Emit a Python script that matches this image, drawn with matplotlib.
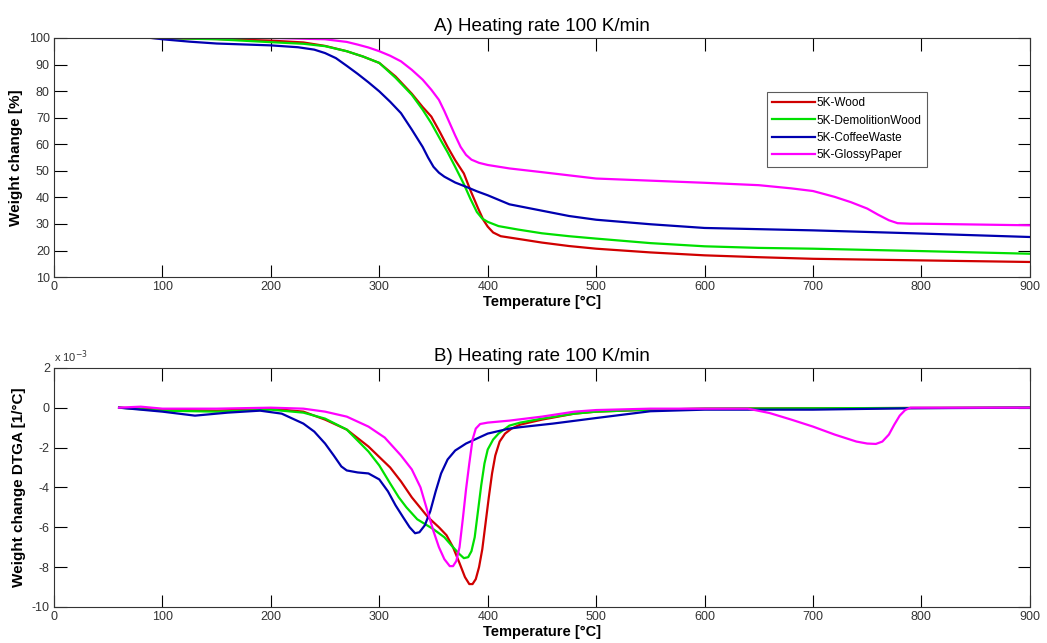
import matplotlib
matplotlib.use("Agg")
import matplotlib.pyplot as plt

plt.rcParams["font.family"] = ["Liberation Sans", "DejaVu Sans"]
plt.rcParams["axes.unicode_minus"] = False

# --- A) weight change [%] vs temperature [degC] ---
wood_t = [90, 150, 200, 230, 250, 270, 285, 300, 315, 330, 340, 348, 356, 363, 370, 378, 384, 391, 396, 400,
          405, 412, 428, 450, 475, 500, 550, 600, 650, 700, 800, 900]
wood_w = [100, 99.6, 99, 98.3, 97, 95, 93, 90.6, 85.5, 79, 74, 70.4, 64.5, 59, 54, 49, 42.7, 36, 31.5, 29,
          26.8, 25.4, 24.4, 23, 21.7, 20.7, 19.3, 18.2, 17.5, 16.9, 16.3, 15.7]

demo_t = [90, 150, 200, 230, 250, 270, 285, 300, 315, 330, 340, 348, 356, 363, 370, 378, 384, 390, 395, 400,
          410, 428, 450, 475, 500, 550, 600, 650, 700, 800, 900]
demo_w = [100, 99.5, 98.4, 97.8, 96.9, 95, 93, 90.6, 85, 78.6, 73, 67.9, 62, 57, 51.5, 45, 39.5, 34.5, 32, 30.8,
          29.2, 27.9, 26.5, 25.4, 24.5, 22.8, 21.6, 21, 20.7, 19.8, 18.8]

coffee_t = [90, 100, 125, 150, 200, 225, 240, 250, 260, 270, 280, 290, 300, 310, 320, 330, 340, 345, 350, 355,
            360, 370, 380, 390, 400, 420, 450, 475, 500, 550, 600, 700, 800, 900]
coffee_w = [100, 99.5, 98.6, 97.9, 97.2, 96.5, 95.6, 94.3, 92.4, 89.5, 86.5, 83.3, 79.9, 76, 71.7, 65.5, 59, 55,
            51.5, 49.3, 47.8, 45.6, 44, 42.3, 40.8, 37.4, 35, 33, 31.6, 29.9, 28.5, 27.6, 26.4, 25.1]

glossy_t = [90, 200, 250, 270, 280, 290, 300, 310, 320, 330, 340, 348, 355, 360, 365, 370, 375, 380, 385, 392,
            400, 420, 450, 500, 550, 600, 650, 680, 700, 720, 735, 750, 760, 770, 778, 790, 800, 900]
glossy_w = [100, 100, 99.5, 98.5, 97.5, 96.4, 95, 93.3, 91.2, 88, 84.3, 80.5, 76.7, 72.5, 67.9, 63.3, 59, 56,
            54.2, 53, 52.2, 50.9, 49.5, 47.1, 46.3, 45.5, 44.6, 43.4, 42.4, 40.2, 38.2, 35.8, 33.5, 31.4, 30.3,
            30.1, 30.1, 29.5]

# --- B) DTGA [x 1e-3 1/degC] vs temperature [degC] ---
wood_dt = [60, 100, 150, 200, 230, 250, 270, 290, 310, 320, 330, 345, 355, 362, 368, 374, 379, 383, 386, 389,
           392, 395, 398, 401, 404, 407, 411, 416, 422, 430, 450, 480, 500, 550, 600, 700, 900]
wood_dg = [0, -0.1, -0.15, -0.05, -0.2, -0.6, -1.1, -1.95, -3.0, -3.7, -4.5, -5.5, -6.0, -6.4, -7.0, -7.8, -8.5,
           -8.85, -8.85, -8.6, -8.0, -7.1, -5.8, -4.5, -3.3, -2.4, -1.7, -1.3, -1.05, -0.85, -0.6, -0.3, -0.2,
           -0.1, -0.05, -0.03, 0]

demo_dt = [60, 100, 150, 200, 230, 250, 270, 290, 300, 310, 318, 325, 335, 350, 360, 368, 374, 378, 382, 385,
           388, 391, 394, 397, 400, 405, 410, 420, 430, 450, 480, 500, 550, 600, 700, 900]
demo_dg = [0, -0.15, -0.2, -0.1, -0.25, -0.55, -1.1, -2.2, -2.9, -3.8, -4.5, -5.0, -5.6, -6.1, -6.5, -7.0,
           -7.35, -7.55, -7.5, -7.2, -6.5, -5.2, -3.9, -2.8, -2.1, -1.6, -1.3, -0.9, -0.75, -0.55, -0.3, -0.2,
           -0.1, -0.05, -0.03, 0]

coffee_dt = [60, 100, 130, 160, 190, 210, 230, 240, 250, 258, 265, 270, 280, 290, 300, 308, 315, 322, 328, 333,
             337, 342, 347, 352, 357, 363, 370, 380, 390, 400, 420, 430, 460, 500, 550, 600, 700, 790, 900]
coffee_dg = [0, -0.2, -0.4, -0.25, -0.15, -0.3, -0.8, -1.2, -1.8, -2.4, -2.95, -3.15, -3.25, -3.3, -3.6, -4.2,
             -4.9, -5.5, -6.0, -6.3, -6.25, -5.9, -5.2, -4.2, -3.3, -2.6, -2.15, -1.8, -1.55, -1.3, -1.05,
             -0.98, -0.8, -0.52, -0.18, -0.1, -0.1, -0.03, 0]

glossy_dt = [60, 80, 100, 150, 200, 230, 250, 270, 290, 305, 320, 330, 338, 345, 350, 355, 360, 365, 368, 371,
             374, 377, 380, 383, 386, 389, 393, 400, 420, 450, 480, 500, 550, 640, 660, 680, 700, 720, 740, 750,
             758, 764, 770, 775, 780, 785, 790, 900]
glossy_dg = [0, 0.05, -0.05, -0.05, 0, -0.05, -0.2, -0.45, -0.95, -1.5, -2.4, -3.1, -4.0, -5.3, -6.2, -7.0,
             -7.6, -7.95, -7.95, -7.7, -7.0, -5.6, -4.1, -2.8, -1.6, -1.05, -0.82, -0.75, -0.65, -0.45, -0.2,
             -0.12, -0.05, -0.05, -0.27, -0.6, -0.95, -1.35, -1.7, -1.8, -1.82, -1.7, -1.35, -0.85, -0.4, -0.12,
             0, 0]

labels = ["5K-Wood", "5K-DemolitionWood", "5K-CoffeeWaste", "5K-GlossyPaper"]
colors = ["#d00000", "#00e000", "#0000b0", "#ff00ff"]

fig = plt.figure(figsize=(10.47, 6.43), dpi=100)
ax1 = fig.add_axes([0.0516, 0.569, 0.932, 0.372])
ax2 = fig.add_axes([0.0516, 0.056, 0.932, 0.372])

for t, w, c, lab in zip([wood_t, demo_t, coffee_t, glossy_t],
                        [wood_w, demo_w, coffee_w, glossy_w], colors, labels):
    ax1.plot(t, w, color=c, lw=1.6, label=lab)

for t, g, c in zip([wood_dt, demo_dt, coffee_dt, glossy_dt],
                   [wood_dg, demo_dg, coffee_dg, glossy_dg], colors):
    ax2.plot(t, g, color=c, lw=1.6)

for ax in (ax1, ax2):
    ax.set_xlim(0, 900)
    ax.set_xticks(range(0, 901, 100))
    ax.tick_params(direction="in", top=True, right=True, length=9, width=0.8,
                   labelsize=9, labelcolor="#333333", pad=3)
    ax.set_xlabel("Temperature [°C]", fontsize=10.5, fontweight="bold", labelpad=1)
    for s in ax.spines.values():
        s.set_linewidth(0.8)
        s.set_color("#333333")

ax1.set_ylim(10, 100)
ax1.set_yticks(range(10, 101, 10))
ax1.set_ylabel("Weight change [%]", fontsize=11, fontweight="bold", labelpad=4)
ax1.set_title("A) Heating rate 100 K/min", fontsize=13.5, pad=5)
leg = ax1.legend(loc="upper left", bbox_to_anchor=(0.7305, 0.774), fontsize=8.5,
                 frameon=True, fancybox=False, handlelength=3.6, handletextpad=0.15,
                 borderpad=0.45, labelspacing=0.45, borderaxespad=0)
leg.get_frame().set_edgecolor("#333333")
leg.get_frame().set_linewidth(0.8)

ax2.set_ylim(-10, 2)
ax2.set_yticks(range(-10, 3, 2))
ax2.set_ylabel("Weight change DTGA [1/°C]", fontsize=11, fontweight="bold", labelpad=4)
ax2.set_title("B) Heating rate 100 K/min", fontsize=13.5, pad=5)
ax2.text(0.0, 1.01, "x 10$^{-3}$", transform=ax2.transAxes, fontsize=8,
         color="#333333", ha="left", va="bottom")

fig.savefig("out.png", dpi=100)
